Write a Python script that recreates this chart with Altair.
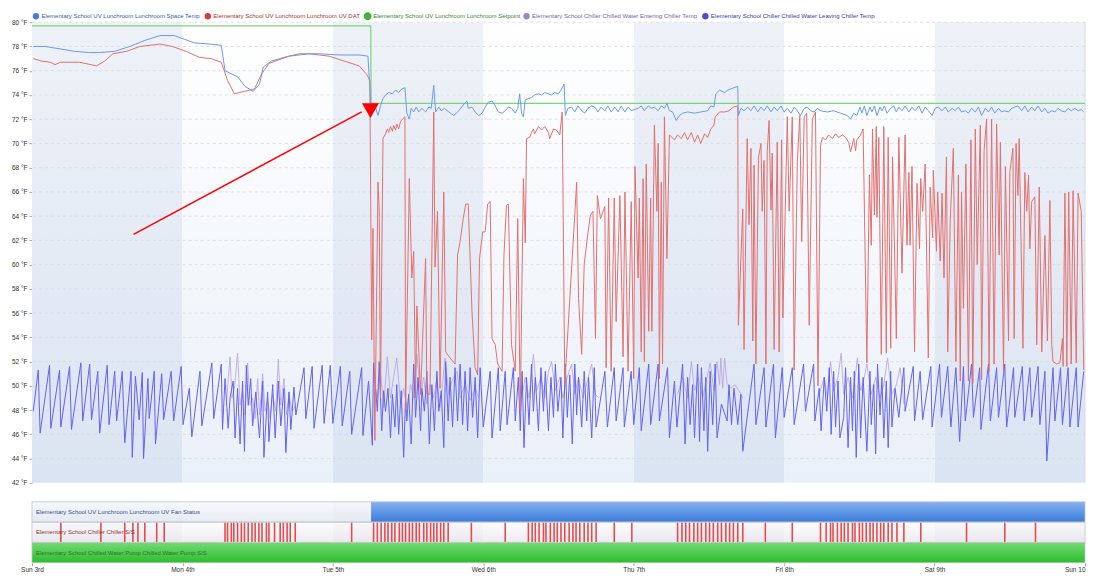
import json
import altair as alt
import pandas as pd

FONT = "Liberation Sans, Arial, Helvetica, sans-serif"

# ---------------- data (hours since Sun 3rd 00:00, values in °F) ----------------
SERIES = [
    "Elementary School UV Lunchroom Lunchroom Space Temp",
    "Elementary School UV Lunchroom Lunchroom UV DAT",
    "Elementary School UV Lunchroom Lunchroom Setpoint",
    "Elementary School Chiller Chilled Water Entering Chiller Temp",
    "Elementary School Chiller Chilled Water Leaving Chiller Temp",
]
day_labels = ["Sun 3rd", "Mon 4th", "Tue 5th", "Wed 6th", "Thu 7th", "Fri 8th", "Sat 9th", "Sun 10"]
day_ticks = [0, 24, 48, 72, 96, 120, 144, 168]
day_shaded = [1, 0, 1, 0, 1, 0, 1]
y_ticks = list(range(42, 81, 2))

space_temp = [
    (0.2, 78.0), (2.1, 78.0), (3.3, 77.9), (4.5, 77.8), (6.8, 77.6), (9.2, 77.5), (10.8, 77.5), (13.2, 77.6),
    (15.6, 78.0), (18.0, 78.5), (20.4, 78.9), (22.7, 78.9), (24.3, 78.6), (25.9, 78.3), (28.3, 78.2), (30.2, 78.1),
    (30.8, 76.0), (32.8, 75.5), (34.0, 74.7), (35.3, 74.3), (36.3, 74.9), (36.9, 76.3), (38.2, 76.8), (40.2, 77.1),
    (42.6, 77.4), (45.8, 77.4), (49.0, 77.3), (52.2, 77.3), (53.6, 77.2), (54.1, 73.0),
    (54.4, 72.6), (54.8, 73.0), (55.2, 72.3), (55.6, 73.1), (56.0, 73.7), (56.4, 74.0), (56.9, 74.2), (57.5, 74.1),
    (58.0, 74.4), (58.5, 74.2), (59.0, 74.5), (59.5, 74.6), (59.8, 72.5), (60.2, 72.0), (60.5, 72.9), (60.9, 72.6),
    (61.3, 73.0), (61.7, 72.6), (62.2, 72.9), (62.8, 72.6), (63.3, 73.0), (63.7, 72.9), (64.1, 74.8), (64.4, 72.6),
    (64.9, 73.0), (65.3, 72.7), (65.8, 72.9), (66.5, 72.6), (67.3, 72.3), (68.1, 72.7), (69.0, 73.3), (69.4, 73.5),
    (69.6, 72.9), (70.2, 73.0), (70.7, 72.6), (71.3, 72.3), (71.8, 72.5), (72.3, 73.0), (72.8, 73.4), (73.4, 73.5),
    (73.9, 73.1), (74.4, 72.6), (75.0, 72.5), (75.5, 72.7), (76.0, 73.0), (76.5, 72.9), (77.1, 72.5), (77.5, 72.9),
    (77.8, 74.1), (78.1, 72.5), (78.4, 72.2), (78.7, 73.6), (79.2, 73.7), (79.7, 73.8), (80.2, 74.0), (80.8, 74.1),
    (81.3, 74.0), (81.8, 74.2), (82.4, 74.1), (82.9, 74.0), (83.4, 74.2), (84.0, 74.1), (84.4, 74.4), (84.9, 74.9),
    (85.1, 72.3), (85.5, 72.9), (86.1, 73.0), (86.6, 72.6), (87.1, 73.1), (87.7, 72.7), (88.2, 72.5), (88.7, 72.9),
    (89.3, 73.1), (89.8, 73.0), (90.3, 72.6), (90.8, 73.0), (91.4, 72.7), (91.9, 73.1), (92.4, 72.6), (93.0, 73.0),
    (93.5, 72.6), (94.0, 73.1), (94.6, 72.6), (95.1, 73.0), (95.6, 72.7), (96.7, 72.9), (97.2, 73.1), (97.7, 72.7),
    (98.3, 73.1), (98.8, 72.9), (99.3, 73.0), (99.9, 72.7), (100.4, 73.1), (100.9, 72.9), (101.3, 73.3), (101.7, 72.7),
    (102.2, 72.6), (102.8, 71.9), (103.3, 72.3), (103.8, 72.5), (104.6, 72.6), (105.7, 72.5), (106.7, 72.6), (107.8, 72.7),
    (108.3, 73.1), (108.8, 73.0), (109.1, 74.1), (109.7, 74.4), (110.5, 74.2), (111.0, 74.4), (111.5, 74.5), (112.0, 74.6),
    (112.6, 74.7), (112.7, 72.3), (113.1, 72.9), (113.6, 72.7), (114.2, 73.0), (114.7, 72.7), (115.2, 73.1), (115.8, 72.6),
    (116.3, 73.0), (116.8, 72.7), (117.3, 73.1), (117.9, 72.6), (118.4, 73.0), (118.9, 72.7), (119.5, 73.1), (120.0, 72.6),
    (120.5, 72.9), (121.1, 72.5), (121.6, 73.0), (122.1, 72.7), (122.6, 72.3), (123.2, 72.9), (123.7, 73.0), (124.2, 72.7),
    (124.8, 72.6), (125.3, 72.9), (125.8, 72.7), (126.9, 72.6), (127.9, 72.7), (129.0, 72.5), (130.1, 72.3), (130.6, 72.0),
    (131.1, 72.5), (131.6, 72.3), (132.1, 73.0), (132.4, 72.5), (132.8, 73.1), (133.2, 72.3), (133.7, 73.0), (134.0, 72.6),
    (134.4, 73.1), (134.8, 72.3), (135.3, 73.0), (135.6, 72.7), (136.0, 73.1), (136.4, 72.5), (137.0, 72.9), (137.5, 73.1),
    (137.9, 72.6), (138.3, 73.0), (138.8, 72.7), (139.3, 73.1), (139.9, 72.6), (140.4, 73.0), (140.9, 72.7), (141.5, 73.1),
    (142.0, 72.5), (142.5, 73.0), (143.0, 72.7), (143.6, 72.3), (144.1, 72.9), (144.6, 73.0), (145.2, 72.7), (145.7, 73.0),
    (146.2, 72.6), (146.8, 72.9), (147.3, 72.7), (147.8, 73.0), (148.3, 72.6), (148.9, 72.7), (149.4, 72.5), (149.9, 72.9),
    (150.5, 72.6), (151.0, 73.0), (151.5, 72.3), (152.1, 72.9), (152.6, 72.6), (153.1, 73.0), (153.6, 72.5), (154.2, 72.9),
    (154.7, 72.6), (155.2, 72.7), (155.8, 72.6), (156.3, 72.9), (156.8, 73.0), (157.3, 73.1), (157.9, 72.7), (158.4, 73.1),
    (158.9, 72.6), (159.5, 73.0), (160.0, 72.7), (160.5, 73.1), (161.1, 72.6), (161.6, 72.9), (162.1, 72.5), (162.7, 72.7),
    (163.2, 72.6), (163.7, 72.9), (164.2, 72.7), (164.8, 72.6), (165.3, 72.9), (165.8, 72.7), (166.4, 72.9), (166.9, 72.7),
    (167.4, 72.8), (167.8, 72.6),
]

uv_dat = [
    (0.2, 77.0), (1.5, 76.8), (2.9, 76.7), (3.7, 76.5), (4.5, 76.7), (7.6, 76.7), (10.3, 76.4), (11.6, 76.8),
    (12.9, 77.4), (15.1, 77.6), (17.2, 78.0), (20.4, 78.2), (22.4, 78.0), (24.6, 77.6), (26.7, 77.1), (28.6, 77.0),
    (30.2, 76.7), (31.2, 75.2), (32.3, 74.1), (33.9, 74.3), (35.5, 74.5), (36.6, 75.7), (37.8, 76.6), (41.0, 77.2),
    (44.2, 77.4), (47.4, 77.2), (49.8, 76.8), (52.2, 76.4), (53.4, 75.7), (53.9, 75.2),
    (54.2, 53.8), (54.4, 63.0), (54.7, 45.5), (55.2, 66.8), (55.4, 64.4), (55.6, 49.0), (56.0, 70.4), (56.4, 70.8),
    (56.7, 71.2), (56.9, 70.9), (57.2, 71.4), (57.5, 71.0), (57.7, 71.5), (58.0, 71.1), (58.2, 71.6), (58.5, 71.2),
    (58.8, 71.8), (59.1, 72.0), (59.5, 72.2), (59.6, 47.9), (60.2, 67.1), (60.6, 58.9), (60.9, 61.1), (61.2, 49.0),
    (61.4, 56.6), (62.0, 49.3), (62.8, 60.5), (63.0, 49.3), (63.5, 49.3), (64.1, 72.6), (64.3, 59.8), (64.7, 64.4),
    (65.1, 49.8), (65.7, 66.0), (66.0, 52.8), (66.7, 52.3), (67.5, 51.8), (67.9, 60.8), (68.3, 61.9), (68.8, 63.8),
    (69.2, 65.0), (69.6, 65.0), (70.2, 56.1), (70.7, 51.5), (71.1, 50.9), (71.4, 60.5), (71.9, 62.7), (72.3, 62.7),
    (72.7, 65.0), (73.1, 65.2), (73.4, 53.9), (73.9, 53.4), (74.3, 51.8), (75.0, 51.2), (75.3, 60.8), (75.7, 64.9),
    (76.0, 65.0), (76.5, 53.4), (77.1, 51.2), (77.5, 63.8), (77.9, 47.9), (78.4, 67.1), (78.7, 61.8), (78.9, 70.4),
    (79.4, 70.5), (79.7, 70.9), (80.0, 71.2), (80.2, 70.8), (80.8, 71.4), (81.3, 71.1), (81.8, 71.4), (82.4, 70.9),
    (82.6, 70.4), (83.2, 71.2), (83.7, 71.1), (84.2, 70.7), (84.6, 72.6), (85.0, 50.1), (86.9, 66.8), (87.2, 57.2),
    (87.7, 52.6), (88.1, 60.0), (88.6, 62.2), (89.1, 64.1), (89.5, 64.4), (89.9, 53.9), (90.2, 65.7), (90.7, 63.8),
    (91.4, 64.8), (91.6, 51.5), (92.0, 65.5), (92.4, 51.2), (92.9, 65.5), (93.2, 55.3), (93.8, 65.7), (94.3, 52.4),
    (94.6, 66.0), (95.1, 51.2), (95.6, 65.2), (96.0, 50.6), (96.2, 68.1), (96.7, 58.9), (96.9, 65.5), (97.2, 52.8),
    (97.5, 67.1), (97.7, 52.0), (98.0, 68.3), (98.4, 54.5), (98.7, 65.5), (98.9, 54.5), (99.3, 71.5), (99.7, 64.4),
    (99.9, 70.0), (100.1, 50.6), (100.4, 66.8), (100.6, 51.8), (100.9, 72.2), (101.3, 60.5), (101.7, 70.7), (102.5, 70.3),
    (103.0, 70.7), (103.6, 70.4), (104.1, 70.9), (104.6, 70.3), (105.2, 70.9), (105.7, 70.1), (106.2, 70.7), (106.7, 70.0),
    (107.3, 70.8), (107.8, 70.5), (108.3, 71.2), (108.8, 71.5), (109.0, 72.2), (109.7, 72.6), (110.5, 72.6), (111.2, 72.7),
    (111.9, 73.0), (112.6, 73.1), (112.7, 55.0), (113.4, 64.6), (113.6, 53.0), (114.1, 70.4), (114.4, 63.3), (114.7, 69.6),
    (115.0, 53.7), (115.2, 68.2), (115.5, 51.8), (115.9, 68.8), (116.3, 70.0), (116.5, 64.4), (116.8, 68.6), (117.1, 51.8),
    (117.3, 69.3), (117.6, 71.9), (117.9, 64.5), (118.1, 69.2), (118.4, 53.0), (118.9, 70.1), (119.2, 52.8), (119.6, 70.3),
    (119.8, 55.6), (120.5, 72.2), (120.8, 64.4), (121.3, 72.2), (121.6, 51.3), (122.1, 68.5), (122.5, 72.3), (122.8, 61.9),
    (123.2, 72.2), (123.6, 72.5), (124.0, 55.0), (124.5, 72.0), (125.0, 72.6), (125.4, 50.0), (125.8, 69.8), (126.1, 70.5),
    (126.6, 70.3), (127.1, 70.7), (127.7, 70.4), (128.2, 70.8), (128.7, 70.5), (129.3, 70.7), (129.8, 70.5), (130.3, 70.1),
    (130.6, 69.3), (131.1, 70.4), (131.4, 69.4), (131.6, 70.3), (132.2, 70.7), (132.6, 71.2), (133.2, 51.9), (133.6, 67.4),
    (133.9, 61.6), (134.1, 71.2), (134.4, 64.1), (134.7, 71.4), (134.8, 63.9), (135.1, 70.5), (135.5, 52.6), (135.9, 71.4),
    (136.3, 52.7), (136.6, 70.5), (137.0, 53.1), (137.3, 68.9), (137.9, 53.9), (138.3, 70.5), (138.8, 59.3), (139.3, 70.7),
    (139.6, 61.6), (139.9, 67.6), (140.1, 61.6), (140.4, 68.1), (140.8, 52.8), (141.2, 66.7), (141.6, 61.3), (141.8, 67.1),
    (142.1, 64.4), (142.5, 68.3), (143.0, 52.3), (143.3, 66.4), (143.7, 62.2), (143.8, 67.8), (144.3, 61.1), (144.5, 66.0),
    (144.9, 60.3), (145.2, 65.9), (145.5, 58.9), (145.9, 68.9), (146.1, 52.8), (146.5, 63.7), (147.0, 69.6), (147.4, 52.0),
    (147.8, 67.4), (148.1, 50.4), (148.3, 66.0), (148.6, 56.4), (149.0, 68.3), (149.4, 50.4), (149.8, 70.3), (150.1, 50.2),
    (150.5, 71.2), (150.8, 60.0), (151.3, 71.5), (151.5, 50.5), (151.9, 69.4), (152.3, 72.0), (152.7, 51.2), (153.1, 72.0),
    (153.5, 51.8), (153.9, 71.6), (154.3, 60.8), (154.5, 70.1), (155.0, 51.2), (155.3, 68.1), (155.8, 53.7), (156.0, 67.6),
    (156.5, 69.6), (156.7, 53.9), (157.0, 70.0), (157.3, 65.7), (157.5, 70.4), (158.1, 53.1), (158.4, 67.6), (158.7, 64.4),
    (159.0, 67.4), (159.2, 61.3), (159.5, 65.2), (160.0, 65.6), (160.3, 53.4), (160.7, 66.4), (161.1, 52.8), (161.6, 62.4),
    (162.0, 53.7), (162.4, 65.3), (162.7, 53.4), (162.9, 52.0), (163.5, 51.8), (164.0, 51.9), (164.4, 53.9), (164.5, 51.6),
    (164.8, 65.9), (165.1, 51.6), (165.4, 66.0), (165.8, 51.8), (166.1, 66.1), (166.6, 51.9), (166.9, 65.9), (167.4, 64.4),
    (167.8, 51.3),
]

setpoint = [(0.0, 79.7), (54.05, 79.7), (54.1, 73.3), (168.0, 73.3)]

cw_leaving = [
    (0.2, 47.9), (1.0, 51.3), (1.3, 46.1), (2.8, 51.7), (3.0, 46.5), (4.4, 51.3), (4.6, 46.6), (6.0, 51.6),
    (6.3, 46.4), (7.8, 51.9), (8.1, 47.1), (9.2, 51.8), (9.5, 47.2), (10.5, 51.2), (10.8, 46.1), (12.0, 51.7),
    (12.3, 46.8), (13.2, 51.2), (13.5, 47.1), (14.4, 51.2), (14.8, 45.3), (15.8, 51.2), (16.0, 44.1), (16.5, 50.8),
    (17.1, 47.2), (17.6, 51.1), (17.8, 44.0), (18.5, 50.6), (18.7, 47.3), (19.5, 51.2), (19.7, 45.2), (20.7, 51.0),
    (21.0, 47.2), (22.2, 51.2), (22.6, 47.1), (23.8, 51.6), (24.1, 46.8), (25.1, 49.8), (25.5, 45.8), (26.8, 51.2),
    (27.1, 46.7), (28.7, 51.9), (29.0, 47.3), (30.2, 51.8), (30.4, 46.4), (30.8, 50.6), (31.3, 46.5), (31.6, 49.0),
    (32.1, 50.4), (32.4, 45.7), (32.8, 49.8), (33.2, 45.2), (33.6, 50.4), (33.9, 44.6), (34.2, 51.7), (34.5, 48.4),
    (34.9, 50.6), (35.2, 46.7), (35.7, 49.5), (36.3, 45.7), (36.8, 50.4), (37.0, 44.1), (37.6, 49.5), (37.8, 45.4),
    (38.4, 50.1), (38.8, 45.7), (39.3, 50.4), (39.7, 46.7), (40.2, 49.8), (40.5, 44.5), (41.0, 49.5), (41.3, 46.4),
    (41.8, 49.9), (42.1, 47.6), (43.4, 51.5), (43.7, 47.3), (44.7, 51.6), (45.0, 46.5), (46.3, 51.7), (46.6, 46.9),
    (47.6, 51.7), (48.0, 46.9), (49.2, 51.6), (49.5, 46.7), (50.7, 51.2), (51.0, 46.0), (52.6, 51.5), (52.8, 45.9),
    (53.7, 50.4), (54.3, 45.1), (54.5, 51.9), (55.1, 47.9), (55.4, 52.0), (55.8, 46.3), (56.1, 49.6), (56.4, 47.9),
    (56.8, 49.8), (57.2, 45.7), (57.5, 49.3), (57.9, 46.6), (58.2, 50.1), (58.5, 46.0), (58.9, 49.6), (59.3, 44.1),
    (59.6, 49.0), (59.8, 47.1), (60.1, 49.3), (60.5, 45.2), (60.9, 51.8), (61.2, 47.4), (61.6, 50.7), (62.0, 46.3),
    (62.2, 49.8), (62.6, 47.9), (63.0, 51.2), (63.4, 45.2), (63.8, 50.1), (64.2, 46.3), (64.6, 51.2), (64.9, 47.9),
    (65.3, 49.6), (65.7, 44.9), (66.0, 52.0), (66.4, 47.1), (66.7, 50.7), (67.1, 46.6), (67.5, 51.5), (67.9, 47.1),
    (68.3, 51.8), (68.7, 46.8), (69.1, 51.2), (69.5, 46.3), (69.9, 51.5), (70.3, 47.4), (70.7, 50.7), (71.1, 45.7),
    (71.5, 51.5), (72.0, 46.6), (73.1, 51.2), (73.4, 45.7), (74.4, 51.5), (74.7, 46.3), (75.5, 51.2), (75.8, 46.8),
    (76.8, 51.5), (77.1, 47.1), (77.6, 50.7), (77.9, 46.3), (78.2, 51.2), (78.5, 44.9), (78.9, 50.7), (79.3, 46.8),
    (79.7, 51.8), (80.0, 47.9), (80.3, 50.7), (80.8, 46.3), (81.2, 51.5), (81.6, 47.9), (81.9, 51.2), (82.4, 46.3),
    (82.8, 50.7), (83.2, 47.4), (83.5, 51.8), (83.9, 47.9), (84.4, 50.7), (84.7, 45.7), (85.1, 51.8), (85.4, 47.4),
    (85.8, 50.9), (86.2, 45.2), (86.6, 51.8), (86.9, 47.6), (87.2, 50.7), (87.7, 46.6), (88.1, 51.2), (88.5, 47.1),
    (88.8, 50.7), (89.3, 45.7), (89.7, 51.5), (90.0, 46.6), (91.4, 51.2), (91.8, 46.6), (92.9, 51.5), (93.2, 47.1),
    (94.3, 51.5), (94.5, 46.6), (95.6, 51.2), (96.0, 46.8), (96.9, 51.5), (97.2, 46.3), (98.4, 51.8), (98.7, 46.8),
    (99.9, 51.8), (100.1, 47.1), (101.4, 51.5), (101.7, 45.7), (102.5, 50.4), (102.9, 46.6), (103.8, 51.8), (104.2, 45.2),
    (104.6, 50.7), (105.0, 46.8), (105.4, 50.1), (105.7, 45.7), (106.2, 51.8), (106.5, 45.4), (106.8, 51.5), (107.2, 46.3),
    (107.5, 50.7), (107.8, 44.6), (108.2, 51.2), (108.6, 46.8), (109.0, 51.8), (109.3, 45.7), (110.0, 48.5), (110.9, 47.1),
    (111.2, 50.1), (111.6, 46.8), (112.0, 49.8), (112.6, 46.8), (113.1, 49.3), (113.4, 44.6), (115.2, 51.8), (115.5, 46.8),
    (116.8, 51.5), (117.1, 46.6), (118.3, 51.8), (118.6, 45.7), (119.7, 51.5), (120.0, 47.4), (121.3, 51.5), (121.6, 46.8),
    (123.1, 51.8), (123.4, 47.9), (124.7, 51.8), (124.9, 47.1), (125.6, 49.8), (125.9, 46.3), (126.4, 50.7), (126.8, 47.9),
    (127.2, 51.5), (127.5, 46.0), (127.9, 51.2), (128.2, 46.6), (128.6, 50.4), (128.9, 45.7), (129.5, 47.4), (129.8, 51.5),
    (130.2, 44.9), (130.6, 50.7), (130.9, 46.3), (131.2, 51.2), (131.5, 44.1), (131.9, 51.8), (132.2, 45.7), (132.6, 50.7),
    (133.0, 46.6), (133.2, 44.6), (133.7, 51.2), (133.9, 46.8), (134.3, 50.1), (134.6, 44.4), (134.9, 51.8), (135.3, 47.6),
    (135.6, 50.7), (135.9, 45.7), (136.3, 50.4), (136.6, 44.9), (137.0, 51.2), (137.2, 46.6), (137.7, 49.8), (138.3, 47.4),
    (139.1, 51.5), (139.3, 47.9), (140.6, 51.6), (140.8, 47.1), (141.7, 51.2), (142.1, 47.2), (143.4, 51.6), (143.6, 46.6),
    (144.8, 51.8), (145.1, 47.4), (146.1, 51.6), (146.6, 46.6), (147.4, 51.5), (148.0, 45.4), (148.6, 51.6), (148.9, 47.1),
    (149.9, 51.8), (150.2, 47.4), (151.2, 51.5), (151.4, 46.4), (152.6, 51.8), (152.9, 47.1), (153.9, 51.5), (154.2, 47.4),
    (155.2, 51.8), (155.5, 46.6), (156.6, 51.5), (156.8, 47.4), (158.0, 51.6), (158.3, 47.1), (159.2, 51.5), (159.5, 47.4),
    (160.5, 51.6), (160.8, 46.8), (161.6, 51.2), (161.9, 43.8), (162.9, 51.5), (163.2, 47.1), (164.1, 51.5), (164.4, 46.8),
    (165.3, 51.5), (165.6, 46.6), (166.6, 51.5), (166.9, 46.6), (167.8, 51.2),
]

# entering temp: only the stretches where it shows above the leaving trace (one list per stretch)
cw_entering = [
    [(31.0, 48.4), (31.6, 52.4), (31.9, 49.0), (32.3, 49.8), (32.8, 52.7), (33.2, 48.4), (33.6, 49.5), (34.0, 47.6),
     (34.4, 51.9), (34.8, 48.4), (35.2, 49.0), (35.6, 47.3), (36.0, 50.6), (36.3, 47.6), (36.8, 51.0), (37.2, 47.9),
     (37.6, 49.0), (38.0, 47.3), (38.4, 49.3), (38.9, 47.9), (39.3, 52.2), (39.7, 48.4), (40.2, 50.6), (40.6, 47.6),
     (41.0, 49.3), (41.5, 47.9), (42.1, 48.4)],
    [(54.5, 50.7), (55.1, 49.0), (55.6, 51.2), (56.1, 48.2), (56.7, 52.4), (57.2, 49.0), (57.7, 50.7), (58.2, 52.3),
     (58.8, 48.5), (59.3, 49.8), (59.8, 48.2), (60.4, 50.1), (60.9, 49.0), (61.4, 52.6), (62.0, 49.3), (62.5, 50.7),
     (63.0, 48.5), (63.5, 50.1), (64.1, 49.0), (64.6, 50.7), (65.1, 48.2), (65.9, 52.3), (66.5, 49.3), (67.0, 50.4),
     (67.8, 51.2), (68.3, 49.0), (69.1, 50.1), (69.9, 48.8), (70.7, 49.8), (71.3, 49.0)],
    [(78.1, 49.0), (78.7, 50.7), (79.3, 49.0), (80.0, 52.6), (80.5, 49.6), (81.2, 50.7), (81.8, 49.0), (82.4, 51.2),
     (82.9, 52.0), (83.5, 49.6), (84.2, 50.7), (84.7, 49.0), (85.4, 50.7), (86.1, 51.8), (86.6, 49.3), (87.2, 50.7),
     (87.9, 49.0), (88.6, 50.4), (89.3, 51.8), (89.9, 49.3), (90.4, 49.0)],
    [(103.0, 49.3), (103.8, 50.7), (104.6, 49.0), (105.2, 52.0), (105.7, 49.6), (106.3, 50.7), (107.0, 49.0), (107.7, 50.7),
     (108.2, 51.9), (108.8, 49.6), (109.3, 52.0), (109.7, 50.1), (109.9, 52.3), (110.2, 49.8), (110.5, 52.3), (110.9, 50.1),
     (111.5, 49.8), (112.1, 50.1), (112.8, 49.6), (113.4, 49.0)],
    [(125.6, 49.3), (126.4, 50.7), (126.9, 49.0), (127.4, 52.0), (127.9, 49.6), (128.6, 50.7), (129.1, 52.7), (129.5, 49.3),
     (130.2, 50.7), (130.9, 49.0), (131.7, 52.3), (132.2, 49.6), (132.8, 50.7), (133.2, 51.8), (133.9, 49.3), (134.6, 50.7),
     (135.3, 49.0), (135.9, 50.1), (136.5, 52.3), (137.2, 49.3), (137.9, 50.1), (138.5, 51.5), (139.1, 48.5)],
]

# annotation arrow (from, to) and arrow head, in data units
arrow_line = [(16.2, 62.5, 52.6, 72.6)]
arrow_head = [(54.0, 72.7)]

# status rows
STATUS_ROWS = [
    "Elementary School UV Lunchroom Lunchroom UV Fan Status",
    "Elementary School Chiller Chiller S/S",
    "Elementary School Chilled Water Pump Chilled Water Pump S/S",
]
fan_on = [(54.1, 168.0)]
fan_off = [(0.0, 54.1)]
pump_on = [(0.0, 168.0)]
chiller_on = [
    4.6, 11.0, 14.8, 16.1, 16.9, 18.0, 19.9, 21.1,
    30.8, 31.2, 31.8, 32.2, 32.8, 33.4, 33.9, 34.5, 35.1, 35.6, 36.2, 36.7, 37.4, 37.8, 38.7, 39.6, 40.1, 40.7, 41.2, 42.0,
    51.0,
    54.5, 55.1, 55.7, 56.3, 56.8, 57.4, 57.9, 58.6, 59.1, 59.6, 60.2, 60.7, 61.3, 61.8, 62.5, 63.0, 63.6, 64.1, 64.6,
    65.2, 65.7, 66.4,
    70.1, 75.5,
    79.2, 79.8, 80.3, 80.9, 81.6, 82.0, 82.7, 83.3, 83.8, 84.4, 85.0, 85.7, 86.3, 86.8, 87.4, 88.1, 88.7, 89.3, 90.0,
    92.9, 95.7,
    103.0, 103.7, 104.3, 104.9, 105.6, 106.2, 106.8, 107.5, 108.1, 108.7, 109.4, 110.0, 110.7, 111.3, 111.9, 112.6, 113.4,
    117.0, 121.3, 125.8,
    126.7, 127.4, 127.8, 128.5, 129.1, 129.6, 130.2, 130.9, 131.3, 132.0, 132.5, 133.1, 133.7, 134.2, 134.8, 135.4,
    135.9, 136.6, 137.2, 138.0,
    139.1, 141.8, 149.1, 155.2, 160.1,
]

# ---------------- styles ----------------
W, H = 1054, 461
SH = 61
LINE_COLORS = ["#6b9be8", "#e26f6f", "#7dd47d", "#b9a3dd", "#6262ee"]
SYM_COLORS = ["#3f7fe0", "#d63c3c", "#3cb43c", "#9b86cc", "#4a4ae0"]
LAB_COLORS = ["#3a5aa8", "#a83232", "#2f8a2f", "#7a64a8", "#3a3aa8"]


def grad(top, bottom):
    return {"gradient": "linear", "x1": 0, "x2": 0, "y1": 0, "y2": 1,
            "stops": [{"offset": 0, "color": top}, {"offset": 1, "color": bottom}]}


def pts(pairs, seg=0):
    return pd.DataFrame({"t": [p[0] for p in pairs], "v": [p[1] for p in pairs],
                         "i": list(range(len(pairs))), "seg": seg})


XSCALE = alt.Scale(domain=[0, 168], nice=False, zero=False)
X = alt.X("t:Q", scale=XSCALE, axis=None)
Y = alt.Y("v:Q", scale=alt.Scale(domain=[42, 80], nice=False, zero=False),
          axis=alt.Axis(values=y_ticks, labelExpr="datum.value + ' °F'", title=None, grid=False,
                        labelFont=FONT, labelFontSize=6.5, labelColor="#333333", tickSize=3,
                        tickColor="#aaaaaa", domainColor="#cccccc", labelPadding=2))
XS = alt.X("t:Q", scale=XSCALE,
           axis=alt.Axis(values=day_ticks, title=None, grid=False, domain=False, tickSize=3, tickColor="#aaaaaa",
                         labelExpr=json.dumps(day_labels) + "[round(datum.value / 24)]",
                         labelAlign={"condition": {"test": "datum.value >= 168", "value": "right"},
                                     "value": "center"},
                         labelFont=FONT, labelFontSize=6.5, labelColor="#333333", labelPadding=1))

days = pd.DataFrame({"t": day_ticks[:-1], "t2": day_ticks[1:], "shade": day_shaded})


def band_layers(height, xenc):
    shaded = alt.Chart(days).transform_filter("datum.shade == 1").mark_rect(
        color=grad("#eef2f8", "#dbe4f2")).encode(x=xenc, x2="t2:Q", y=alt.value(0), y2=alt.value(height))
    light = alt.Chart(days).transform_filter("datum.shade == 0").mark_rect(
        color=grad("#ffffff", "#eaf0f9")).encode(x=xenc, x2="t2:Q", y=alt.value(0), y2=alt.value(height))
    return [shaded, light]


edge = alt.Chart(pd.DataFrame({"t": [day_ticks[-1]]})).mark_rule(color="#d5dbe5").encode(
    x=X, y=alt.value(0), y2=alt.value(H))
grid = alt.Chart(pd.DataFrame({"v": y_ticks[1:]})).mark_rule(
    color="#d9d9d9", strokeDash=[3, 3], strokeWidth=0.8).encode(y=Y)


def line(df, color, width=1.0, opacity=1.0):
    return alt.Chart(df).mark_line(color=color, strokeWidth=width, clip=True, opacity=opacity).encode(
        x=X, y=Y, order="i:Q", detail="seg:N")


ent_df = pd.concat([pts(s, k) for k, s in enumerate(cw_entering)], ignore_index=True)
lines = [
    line(ent_df, LINE_COLORS[3], 1.0, 0.85),
    line(pts(cw_leaving), LINE_COLORS[4], 1.0),
    line(pts(setpoint), LINE_COLORS[2], 1.2),
    line(pts(uv_dat), LINE_COLORS[1], 1.0),
    line(pts(space_temp), LINE_COLORS[0], 1.0),
]

arr_df = pd.DataFrame(arrow_line, columns=["t", "v", "t2", "v2"])
arrow = alt.Chart(arr_df).mark_rule(color="#ff0000", strokeWidth=1.5).encode(x=X, y=Y, x2="t2:Q", y2="v2:Q")
head = alt.Chart(pd.DataFrame(arrow_head, columns=["t", "v"])).mark_point(
    shape="triangle-down", filled=True, size=289, color="#ff0000", opacity=1).encode(x=X, y=Y)

# legends (one per series so each label keeps its own colour)
legend_src = pd.DataFrame({"series": SERIES, "t": [0] * 5, "v": [60] * 5})
LEG_X = [0, 172, 332, 491, 670]


def leg(i):
    return alt.Legend(orient="none", legendX=LEG_X[i], legendY=-10, title=None, labelFont=FONT,
                      labelFontSize=6, labelOffset=1.5, padding=0, symbolSize=40, symbolType="circle",
                      labelColor=LAB_COLORS[i], labelLimit=400)


def sc(i, rng):
    return alt.Scale(domain=[SERIES[i]], range=[rng])


leg_encs = [
    {"color": alt.Color("series:N", scale=sc(0, SYM_COLORS[0]), legend=leg(0))},
    {"fill": alt.Fill("series:N", scale=sc(1, SYM_COLORS[1]), legend=leg(1))},
    {"stroke": alt.Stroke("series:N", scale=sc(2, SYM_COLORS[2]), legend=leg(2))},
    {"shape": alt.Shape("series:N", scale=sc(3, "circle"), legend=leg(3))},
    {"strokeDash": alt.StrokeDash("series:N", scale=sc(4, [1, 0]), legend=leg(4))},
]
legends = []
for i, enc in enumerate(leg_encs):
    legends.append(
        alt.Chart(legend_src).transform_filter(alt.datum.series == SERIES[i]).transform_filter("datum.t > 999")
        .mark_point(filled=True, color=SYM_COLORS[i], size=40, opacity=1)
        .encode(x=X, y=Y, **enc)
    )

main = alt.layer(*band_layers(H, X), edge, grid, *lines, arrow, head, *legends).properties(width=W, height=H)

# ---------------- status strip ----------------
YS = alt.Y("row:N", scale=alt.Scale(domain=STATUS_ROWS, paddingInner=0, paddingOuter=0), axis=None)


def span_df(spans, row):
    return pd.DataFrame({"t": [s[0] for s in spans], "t2": [s[1] for s in spans], "row": row})


def span(spans, row, fill, opacity=1.0):
    return alt.Chart(span_df(spans, row)).mark_rect(color=fill, opacity=opacity).encode(x=XS, x2="t2:Q", y=YS)


status_layers = band_layers(SH, XS) + [
    span(fan_off, STATUS_ROWS[0], grad("#f7f9fc", "#e2e8f2"), 0.8),
    span(fan_on, STATUS_ROWS[0], grad("#86b1f0", "#3a7bdb")),
    span(pump_on, STATUS_ROWS[1], grad("#ffffff", "#eee6ec"), 0.7),
    alt.Chart(pd.DataFrame({"t": chiller_on, "row": STATUS_ROWS[1]})).mark_tick(
        color="#e23a3a", thickness=1.6, size=20, opacity=0.9).encode(x=XS, y=YS),
    span(pump_on, STATUS_ROWS[2], grad("#74da74", "#2cbd2c")),
    alt.Chart(span_df(pump_on * 3, STATUS_ROWS)).mark_rect(
        fillOpacity=0, stroke="#c2c6cc", strokeWidth=0.8).encode(x=XS, x2="t2:Q", y=YS),
]
TXT_COLORS = ["#2f4f8f", "#8f3535", "#2f6f2f"]
for k, r in enumerate(STATUS_ROWS):
    status_layers.append(
        alt.Chart(pd.DataFrame({"t": [0.0], "row": [r]})).mark_text(
            align="left", baseline="middle", dx=4, font=FONT, fontSize=6, color=TXT_COLORS[k]
        ).encode(x=XS, y=YS, text="row:N")
    )

status = alt.layer(*status_layers).properties(width=W, height=SH)

chart = alt.vconcat(main, status, spacing=19, bounds="flush").properties(
    padding={"left": 3, "top": 4, "right": 0, "bottom": 0}, background="#ffffff"
).configure_view(stroke=None)

chart.save("out.html", embed_options={"renderer": "svg", "actions": False})
